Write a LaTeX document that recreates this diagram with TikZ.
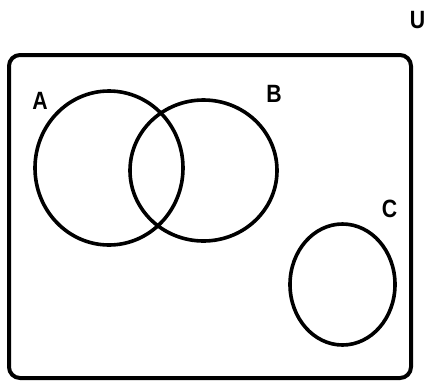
\documentclass[tikz,border=0pt]{standalone}
\usepackage{fontspec}
\usepackage{graphicx}
\setmainfont{Liberation Sans}
\usetikzlibrary{shapes.geometric}
\newcommand{\lbltext}[1]{\scalebox{0.85}[1]{#1}}
\begin{document}
\begin{tikzpicture}[x=1pt,y=-1pt,
  setline/.style={line width=3.6pt},
  lbl/.style={font=\bfseries\fontsize{25}{27}\selectfont, inner sep=0pt}]
\useasboundingbox[fill=white] (0,0) rectangle (425,381);
\draw[line width=4pt, rounded corners=11pt] (9,55) rectangle (411,378);
\node[setline, draw, ellipse, minimum width=148pt, minimum height=154pt, inner sep=0pt] (A) at (109,168) {};
\node[setline, draw, ellipse, minimum width=147pt, minimum height=141pt, inner sep=0pt] (B) at (203.5,170.5) {};
\node[setline, draw, ellipse, minimum width=105pt, minimum height=121pt, inner sep=0pt] (C) at (342.5,284.5) {};
\node[lbl] (la) at (40,100.5) {\lbltext{A}};
\node[lbl] (lb) at (274,94) {\lbltext{B}};
\node[lbl] (lc) at (389.5,209) {\lbltext{C}};
\node[lbl] (lu) at (417.5,20.5) {\lbltext{U}};
\end{tikzpicture}
\end{document}
